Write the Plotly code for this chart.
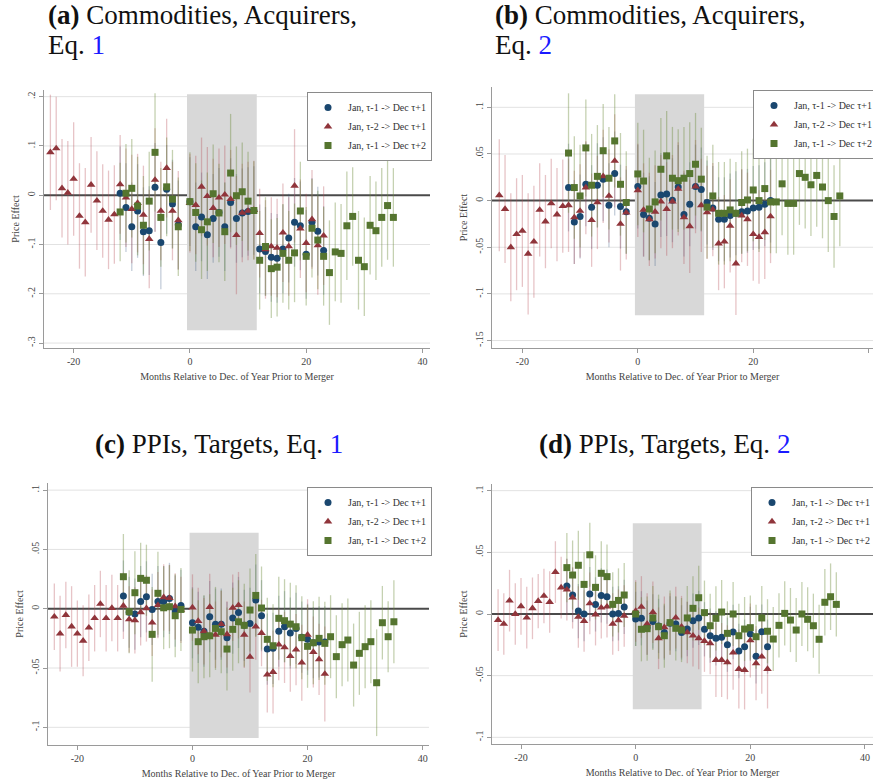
import plotly.graph_objects as go

W, H = 873, 784

# ---------------- categories ----------------
MONTHS_RED = list(range(-24, -1)) + list(range(0, 24))     # Jan, tau-2 -> Dec tau+1
MONTHS_BLUE = list(range(-12, -1)) + list(range(0, 24))    # Jan, tau-1 -> Dec tau+1
MONTHS_GREEN = list(range(-12, -1)) + list(range(0, 36))   # Jan, tau-1 -> Dec tau+2

NAME_BLUE = "Jan, τ-1 -> Dec τ+1"
NAME_RED = "Jan, τ-2 -> Dec τ+1"
NAME_GREEN = "Jan, τ-1 -> Dec τ+2"

X_TICKS = [-20, 0, 20, 40]
X_TICKTEXT = ["-20", "0", "20", "40"]

# ---------------- panel (a) ----------------
a_blue = [.004, -.025, -.064, -.032, -.074, -.072, .016, -.096, .012, -.018, -.060,
          -.013, -.064, -.044, -.080, -.047, -.035, -.064, -.015, -.047, -.036, -.033, -.031,
          -.109, -.114, -.126, -.128, -.109, -.087, -.055, -.062, -.120, -.055, -.073, -.112]
a_blue_ci = [.095, .09, .09, .095, .09, .09, .09, .095, .09, .09, .09,
             .09, .09, .09, .09, .09, .09, .09, .09, .09, .09, .09, .09,
             .09, .09, .09, .09, .09, .09, .09, .09, .09, .09, .09, .09]
a_red = [.087, .095, .014, .005, .033, -.042, -.055, .021, -.011, -.032, -.050, -.039, .022,
         -.005, -.028, -.016, -.040, -.089, .031, -.032, .055, -.032, -.051,
         -.016, -.020, .017, -.002, -.026, -.005, .001, -.008, -.081, -.036, -.032, -.030,
         -.077, -.110, -.104, -.107, -.076, -.104, .019, -.068, -.097, -.049, -.102, -.082]
a_red_ci = [.117, .105, .10, .105, .115, .107, .11, .097, .10, .095, .10, .10, .10,
            .10, .11, .10, .10, .10, .105, .10, .10, .10, .10,
            .10, .10, .10, .10, .10, .10, .10, .10, .12, .10, .10, .10,
            .09, .10, .10, .10, .10, .10, .115, .10, .10, .10, .10, .10]
a_green = [-.034, .004, .014, -.022, -.061, -.012, .087, -.045, .017, -.008, -.064,
           -.013, -.035, -.070, -.054, .003, -.036, -.074, .045, -.001, .007, -.012, -.031,
           -.132, -.104, -.149, -.146, -.118, -.132, -.117, -.032, -.124, -.067, -.091, -.124,
           -.157, -.115, -.118, -.062, -.043, -.132, -.145, -.061, -.072, -.045, -.021, -.045]
a_green_ci = [.10, .10, .10, .10, .10, .10, .12, .10, .10, .10, .10,
              .10, .10, .10, .10, .10, .10, .10, .12, .10, .10, .10, .10,
              .10, .10, .10, .10, .10, .10, .10, .10, .10, .10, .10, .10,
              .106, .10, .10, .11, .10, .10, .10, .10, .10, .10, .11, .10]

# ---------------- panel (b) ----------------
b_blue = [.014, -.023, -.017, .0175, -.007, .0165, .023, -.005, .029, -.0064, -.012,
          .015, -.015, -.019, -.025, .006, .007, .0004, .0146, -.015, -.004, .015, .012,
          -.002, -.008, -.020, -.020, -.016, -.0136, -.012, -.011, -.008, -.007, -.004, 0.0]
b_blue_ci = [.047, .045, .045, .045, .045, .045, .045, .045, .045, .045, .045,
             .045, .045, .045, .045, .045, .045, .045, .045, .045, .045, .045, .045,
             .045, .045, .045, .045, .045, .045, .045, .045, .045, .045, .045, .045]
b_red = [.0057, -.009, -.050, -.036, -.0325, -.057, -.044, -.010, -.0225, -.003, -.015, -.006,
         -.005, -.018, -.011, .014, -.021, -.002, .026, .005, .0425, -.025, -.013,
         .011, -.010, -.020, -.012, -.001, -.009, -.001, .0125, -.018, -.0275, .015, -.005,
         -.0125, -.0096, -.046, -.044, -.027, -.0675, -.016, -.020, -.036, -.039, -.034, -.017]
b_red_ci = [.06, .058, .058, .06, .06, .065, .06, .05, .05, .048, .05, .05,
            .05, .05, .05, .05, .05, .05, .05, .05, .05, .05, .05,
            .05, .05, .05, .05, .05, .05, .05, .05, .05, .05, .05, .05,
            .05, .05, .05, .05, .05, .055, .05, .05, .05, .05, .05, .05]
b_green = [.051, .014, .005, .0565, .0165, .026, .0535, .024, .064, .0175, -.002,
           .0286, .021, -.009, -.0014, .0336, .048, .024, .0214, .024, .029, .039, .023,
           -.007, .005, -.0136, -.0136, -.010, -.0136, -.002, .0007, .0114, 0.0, .0129, -.0014,
           -.0014, .018, -.003, -.003, .029, .025, .017, .027, .0146, 0.0, -.017, .005]
b_green_ci = [.064, .055, .055, .052, .055, .055, .05, .055, .05, .055, .055,
              .055, .055, .055, .055, .055, .048, .055, .055, .055, .055, .055, .055,
              .055, .055, .055, .055, .055, .055, .055, .055, .055, .055, .055, .055,
              .055, .055, .055, .055, .055, .055, .055, .055, .055, .055, .055, .054]

# ---------------- panel (c) ----------------
c_blue = [.0107, -.003, -.0045, .006, .010, -.0006, .006, .006, .0087, -.002, .0028,
          -.0118, -.0157, -.019, -.0067, -.013, -.013, -.0244, -.0079, -.0031, -.014, -.0124, .0073,
          -.0059, -.034, -.0334, -.019, -.0152, -.0205, -.0166, -.024, -.0258, -.0287, -.028, -.028]
c_blue_ci = [.03, .03, .03, .03, .03, .03, .03, .03, .03, .03, .03,
             .03, .03, .03, .03, .03, .03, .03, .03, .03, .03, .03, .03,
             .03, .03, .03, .03, .03, .03, .03, .03, .03, .03, .03, .03]
c_red = [-.0067, -.021, -.0053, -.015, -.021, -.027, -.016, -.008, .004, -.008, .0006, -.008,
         .0025, -.009, -.0098, -.003, .0003, -.0118, .003, .0096, .009, .002, -.001,
         .001, -.0104, -.019, .0014, -.022, -.013, -.0216, .0008, .003, -.022, -.0407, -.015,
         -.0205, -.0556, -.0534, -.0303, -.0326, -.040, -.0345, -.0455, -.022, -.0365, -.0427, -.055]
c_red_ci = [.028, .032, .028, .034, .028, .03, .028, .028, .028, .028, .028, .028,
            .028, .028, .028, .028, .028, .028, .028, .028, .028, .028, .028,
            .028, .028, .028, .028, .028, .028, .028, .028, .028, .028, .03, .028,
            .028, .032, .035, .03, .03, .03, .03, .032, .03, .03, .03, .04]
c_green = [.027, -.0025, .0135, .0256, .024, -.0216, .013, .0008, .0017, -.0059, -.0006,
           -.018, -.0278, -.0236, -.0228, -.0166, -.0194, -.034, -.0174, -.011, -.014, -.0011, .0112,
           .0006, -.0258, -.0312, -.0081, -.0101, -.013, -.0152, -.0244, -.0317, -.0287, -.025, -.0292,
           -.0236, -.0404, -.0303, -.0264, -.0475, -.0376, -.032, -.0278, -.0624, -.0118, -.0236, -.011]
c_green_ci = [.036, .035, .035, .03, .03, .04, .035, .035, .035, .035, .035,
              .035, .035, .035, .035, .035, .035, .035, .035, .035, .035, .035, .035,
              .035, .035, .035, .035, .035, .035, .035, .035, .035, .035, .035, .035,
              .035, .035, .035, .035, .035, .035, .035, .035, .045, .031, .03, .035]

# ---------------- panel (d) ----------------
d_blue = [.0227, .0154, .0024, 0.0, .0162, .0078, .0151, .014, 0.0, .0005, .0057,
          -.004, -.0035, -.011, -.006, -.0097, -.0151, -.0076, -.0081, -.0149, -.0122, -.0054, -.0032,
          -.0124, -.0176, -.0197, -.0189, -.0249, -.0146, -.030, -.0265, -.0162, -.0343, -.0143, -.0265]
d_blue_ci = [.022, .022, .022, .022, .022, .022, .022, .022, .022, .022, .022,
             .022, .022, .022, .022, .022, .022, .022, .022, .022, .022, .022, .022,
             .022, .022, .022, .022, .022, .022, .022, .022, .022, .022, .022, .022]
d_red = [-.0049, -.0081, .0108, 0.0, .0062, -.003, .0046, .0105, .0146, .0097, .034, .0214,
         .0197, .0132, -.0024, -.0057, .0086, -.0005, .0051, .0059, -.0081, -.0051, -.0016,
         .0024, .0057, -.0081, .0014, -.0197, -.0108, -.0081, -.003, -.0103, -.0149, -.0176, -.0197,
         -.0219, -.0238, -.0373, -.0373, -.0392, -.0314, -.0446, -.0454, -.0214, -.040, -.0346, -.0446]
d_red_ci = [.025, .025, .025, .025, .023, .025, .025, .022, .022, .025, .025, .025,
            .025, .025, .025, .025, .025, .025, .025, .025, .025, .025, .025,
            .025, .025, .025, .025, .025, .025, .025, .025, .025, .025, .025, .025,
            .025, .025, .03, .03, .03, .03, .032, .032, .03, .03, .03, .032]
d_green = [.0376, .0316, .0395, .024, .048, .0216, .033, .0303, .0078, .011, .0154,
           0.0, -.0124, -.0119, -.0032, -.0103, -.0176, -.007, -.0116, -.013, -.0032, .0046, .0132,
           .0011, -.0095, -.0035, .0016, -.0157, 0.0, -.0176, -.0122, -.0111, -.0184, -.0032, -.014,
           -.0203, -.0092, .0005, -.0049, -.013, 0.0, -.0043, -.0095, -.0205, .0095, .014, .0078]
d_green_ci = [.028, .028, .028, .026, .026, .026, .026, .026, .026, .026, .026,
              .026, .026, .026, .026, .026, .026, .026, .026, .026, .026, .026, .026,
              .026, .026, .026, .026, .026, .026, .026, .026, .026, .026, .026, .026,
              .026, .026, .026, .026, .026, .026, .026, .026, .028, .027, .027, .026]

PANELS = [
    dict(key="a", blue=(a_blue, a_blue_ci), red=(a_red, a_red_ci), green=(a_green, a_green_ci),
         px=(44, 430), py=(90, 348), xr=[-25.1, 41.3], yr=[-0.31, 0.2135],
         yticks=[0.2, 0.1, 0, -0.1, -0.2, -0.3], yticktext=[".2", ".1", "0", "-.1", "-.2", "-.3"],
         box=(0.205, -0.274), leg=(307, 92)),
    dict(key="b", blue=(b_blue, b_blue_ci), red=(b_red, b_red_ci), green=(b_green, b_green_ci),
         px=(492, 873), py=(87, 348), xr=[-25.26, 40.75], yr=[-0.158, 0.1218],
         yticks=[0.1, 0.05, 0, -0.05, -0.1, -0.15], yticktext=[".1", ".05", "0", "-.05", "-.1", "-.15"],
         box=(0.114, -0.123), leg=(753, 90)),
    dict(key="c", blue=(c_blue, c_blue_ci), red=(c_red, c_red_ci), green=(c_green, c_green_ci),
         px=(48, 429), py=(483, 745), xr=[-25.1, 41.1], yr=[-0.1149, 0.106],
         yticks=[0.1, 0.05, 0, -0.05, -0.1], yticktext=[".1", ".05", "0", "-.05", "-.1"],
         box=(0.064, -0.109), leg=(307, 487)),
    dict(key="d", blue=(d_blue, d_blue_ci), red=(d_red, d_red_ci), green=(d_green, d_green_ci),
         px=(492, 873), py=(484, 744), xr=[-25.06, 41.4], yr=[-0.1054, 0.1054],
         yticks=[0.1, 0.05, 0, -0.05, -0.1], yticktext=[".1", ".05", "0", "-.05", "-.1"],
         box=(0.0735, -0.0773), leg=(751, 487)),
]

NAVY = "#1a476f"
MAROON = "#90353b"
FOREST = "#55752f"
CI_COL = {"blue": "rgba(60,90,130,0.30)", "red": "rgba(180,70,80,0.32)", "green": "rgba(110,140,60,0.40)"}
MK = {"blue": dict(symbol="circle", size=7, color=NAVY),
      "red": dict(symbol="triangle-up", size=7.5, color=MAROON),
      "green": dict(symbol="square", size=7, color=FOREST)}
MONTHS = {"blue": MONTHS_BLUE, "red": MONTHS_RED, "green": MONTHS_GREEN}
NAMES = {"blue": NAME_BLUE, "red": NAME_RED, "green": NAME_GREEN}
FONT = "'Liberation Serif', 'Times New Roman', Times, serif"

fig = go.Figure()
layout = dict(width=W, height=H, margin=dict(l=0, r=0, t=0, b=0, autoexpand=False),
              paper_bgcolor="white", plot_bgcolor="white", showlegend=True,
              font=dict(family=FONT, size=10, color="#333"))
shapes = []
annotations = []

for i, p in enumerate(PANELS):
    n = "" if i == 0 else str(i + 1)
    xa, ya = "x" + n, "y" + n
    leg = "legend" + n
    for s in ["blue", "red", "green"]:
        vals, ci = p[s]
        fig.add_trace(go.Scatter(
            x=MONTHS[s], y=vals, mode="markers", xaxis=xa, yaxis=ya,
            marker=dict(size=1, opacity=0), showlegend=False, hoverinfo="skip",
            error_y=dict(type="data", array=ci, color=CI_COL[s], thickness=1.3, width=0)))
    for s in ["blue", "red", "green"]:
        vals, ci = p[s]
        fig.add_trace(go.Scatter(
            x=MONTHS[s], y=vals, mode="markers", xaxis=xa, yaxis=ya, name=NAMES[s],
            marker=dict(symbol=MK[s]["symbol"], size=MK[s]["size"], color=MK[s]["color"],
                        line=dict(width=0)),
            legend=leg, showlegend=True))

    x0, x1 = p["px"]
    y0, y1 = p["py"]
    layout["xaxis" + n] = dict(
        domain=[x0 / W, min(x1 / W, 1.0)], anchor=ya, range=p["xr"], automargin=False,
        tickmode="array", tickvals=X_TICKS, ticktext=X_TICKTEXT,
        showline=True, linecolor="#9a9a9a", linewidth=1.2, mirror=False,
        ticks="outside", ticklen=4, tickcolor="#9a9a9a", showgrid=False, zeroline=False,
        tickfont=dict(size=10, family=FONT, color="#444"),
        title=dict(text="Months Relative to Dec. of Year Prior to Merger",
                   font=dict(size=10, family=FONT, color="#444"), standoff=6))
    layout["yaxis" + n] = dict(
        domain=[1 - y1 / H, 1 - y0 / H], anchor=xa, range=p["yr"], automargin=False,
        tickmode="array", tickvals=p["yticks"], ticktext=p["yticktext"], tickangle=-90,
        showline=True, linecolor="#9a9a9a", linewidth=1.2,
        ticks="outside", ticklen=4, tickcolor="#9a9a9a",
        showgrid=False, zeroline=False,
        tickfont=dict(size=10, family=FONT, color="#444"),
        title=dict(text="Price Effect", font=dict(size=10, family=FONT, color="#444"), standoff=4))
    # grid lines at non-zero ticks
    for t in p["yticks"]:
        if t != 0:
            shapes.append(dict(type="line", xref=xa, yref=ya, x0=p["xr"][0], x1=p["xr"][1], y0=t, y1=t,
                               line=dict(color="#e2e2e2", width=1), layer="below"))
    # zero line
    shapes.append(dict(type="line", xref=xa, yref=ya, x0=p["xr"][0], x1=p["xr"][1], y0=0, y1=0,
                       line=dict(color="#4a4a4a", width=2), layer="below"))
    # treatment window box
    shapes.append(dict(type="rect", xref=xa, yref=ya, x0=-0.5, x1=11.5, y0=p["box"][1], y1=p["box"][0],
                       fillcolor="#d8d8d8", line=dict(width=0), layer="below"))
    lx, ly = p["leg"]
    layout[leg] = dict(x=lx / W, y=1 - ly / H, xanchor="left", yanchor="top",
                       xref="paper", yref="paper",
                       bgcolor="white", bordercolor="#8a8a8a", borderwidth=1,
                       font=dict(size=10, family=FONT, color="#333"),
                       itemwidth=30, tracegroupgap=0, itemsizing="trace")

# panel titles (each text line placed separately)
BLUE_REF = "<span style='color:#1a1aff'>{}</span>"
TITLES = [
    ("<b>(a)</b> Commodities, Acquirers,", 46, 15, "left"),
    ("Eq. " + BLUE_REF.format("1"), 46, 45, "left"),
    ("<b>(b)</b> Commodities, Acquirers,", 493, 15, "left"),
    ("Eq. " + BLUE_REF.format("2"), 493, 45, "left"),
    ("<b>(c)</b> PPIs, Targets, Eq. " + BLUE_REF.format("1"), 219, 444, "center"),
    ("<b>(d)</b> PPIs, Targets, Eq. " + BLUE_REF.format("2"), 664, 444, "center"),
]
for txt, x, y, xan in TITLES:
    annotations.append(dict(text=txt, x=x / W, y=1 - y / H, xref="paper", yref="paper",
                            xanchor=xan, yanchor="middle", align="left", showarrow=False,
                            font=dict(family=FONT, size=27, color="#111")))

layout["shapes"] = shapes
layout["annotations"] = annotations
fig.update_layout(**layout)
fig.write_html("out.html")
